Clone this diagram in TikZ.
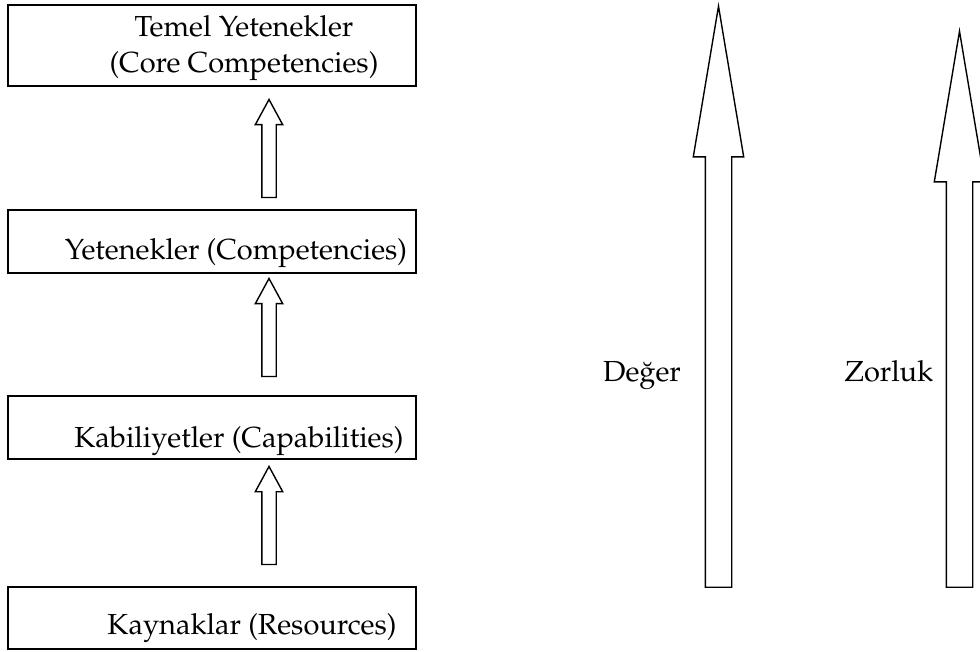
\documentclass[tikz,border=0pt]{standalone}
\usepackage[T1]{fontenc}
\usepackage{mathpazo}
\usetikzlibrary{shapes.arrows}

\tikzset{
  box/.style={draw, line width=0.9pt, minimum width=204pt, inner sep=0pt},
  txt/.style={anchor=base, inner sep=0pt, align=center, font=\fontsize{14.5}{18}\selectfont},
  upsmall/.style={single arrow, draw, line width=0.7pt, rotate=90, anchor=tip,
    inner xsep=0pt, inner ysep=3.25pt, single arrow head extend=3.25pt,
    single arrow tip angle=57, minimum height=49pt},
  upbig/.style={single arrow, draw, line width=0.7pt, rotate=90, anchor=tip,
    inner xsep=0pt, inner ysep=6.25pt, single arrow head extend=6pt,
    single arrow tip angle=19}
}

\begin{document}
\begin{tikzpicture}[x=0.5pt,y=-0.5pt]
\useasboundingbox (0,0) rectangle (980,652);
% boxes
\node[box, minimum height=40.5pt] (bx1) at (212,45.5){};
\node[box, minimum height=31.5pt] (bx2) at (212,241.5){};
\node[box, minimum height=31.5pt] (bx3) at (212,427.5){};
\node[box, minimum height=31pt] (bx4) at (212,618){};
% box texts
\node[txt] (tx1) at (244,73){Temel Yetenekler\\(Core Competencies)};
\node[txt] (tx2) at (236,260){Yetenekler (Competencies)};
\node[txt] (tx3) at (239,447){Kabiliyetler (Capabilities)};
\node[txt] (tx4) at (252,634){Kaynaklar (Resources)};
% small arrows
\node[upsmall] (ar1) at (269,98){};
\node[upsmall] (ar2) at (269,277){};
\node[upsmall] (ar3) at (269,465){};
% big arrows
\node[upbig, minimum height=290.5pt] (val) at (718.5,2){};
\node[upbig, minimum height=278pt] (dif) at (959.5,27){};
\node[txt] (lval) at (642,381){De\u{g}er};
\node[txt] (ldif) at (889,381){Zorluk};
\end{tikzpicture}
\end{document}
